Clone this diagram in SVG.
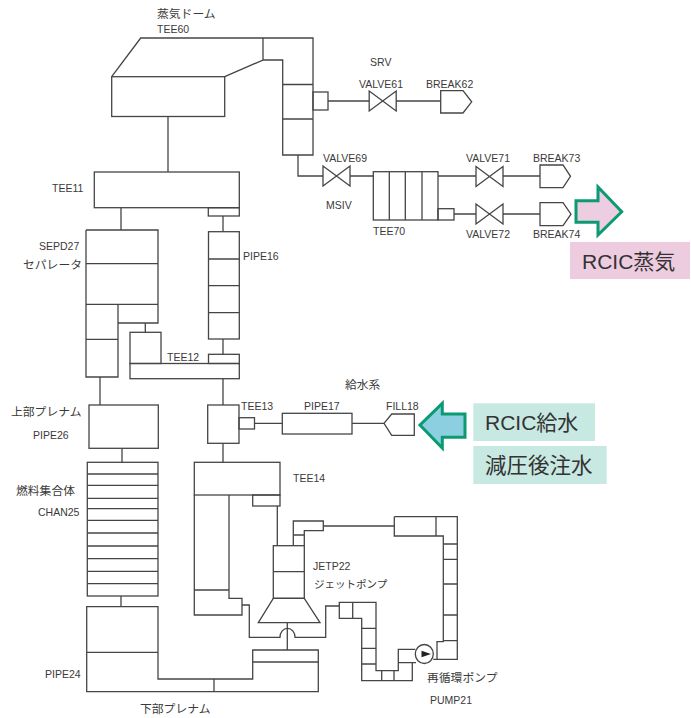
<svg xmlns="http://www.w3.org/2000/svg" width="691" height="718" viewBox="0 0 691 718">
<defs>
<style>
.s{fill:none;stroke:#454545;stroke-width:1.3;stroke-linejoin:miter}
.w{fill:#fff;stroke:#454545;stroke-width:1.3}
.t{font-family:"Liberation Sans","Noto Sans CJK JP",sans-serif;font-size:10.5px;fill:#3a3a3a}
.j{font-family:"Noto Sans CJK JP","Liberation Sans",sans-serif;font-size:11.8px;fill:#3a3a3a}
.c{font-family:"Liberation Sans","Noto Sans CJK JP",sans-serif;font-size:21px;fill:#333}
.a{stroke:#0b9a72;stroke-width:3;stroke-linejoin:miter}
</style>
<g id="valve"><path class="s" d="M-13.500 -10V10L13.500 -10V10Z"/></g>
</defs>
<rect width="691" height="718" fill="#fff"/>

<g id="connectors">
<path class="s" d="M168 116.500V172M298 155V176H323M350 176H373.300M328 101H369.300M396 101H440.700M438 176H476M503 176H540M454 214H476M503 214H540M121 207.700V230M223 216V231.700M223 339V354.300M145.300 323V332.300M100 377V405M223 378.700V405M122 448.300V462.300M223 443.300V462.300M254.500 423.300H282.300M352 423.300H384M121 596V606.700M277.300 506V545.700M323.300 526H394.300M287.300 622.700V650M214 679V691.700"/>
<path class="s" d="M242 605H249.300V637.300H280A7.500 9 0 0 1 295 637.300H325.700V606H339.300"/>
</g>

<g id="TEE60">
<path class="s" d="M111.700 76.700L140.700 38H313V155H282.700V60H263M263 38V60L224.700 76.700M282.700 84.500H313M282.700 119H313"/>
<rect class="s" x="111.700" y="76.700" width="113" height="39.800"/>
<rect class="s" x="313" y="92" width="15" height="18"/>
</g>
<g id="VALVE61"><use href="#valve" x="382.700" y="101"/></g>
<g id="BREAK62"><path class="s" d="M440.700 90.700H463L471.700 101.800L463 113H440.700Z"/></g>
<g id="VALVE69"><use href="#valve" x="336.500" y="176"/></g>
<g id="TEE70">
<rect class="s" x="373.300" y="171.700" width="64.700" height="48.300"/>
<path class="s" d="M389.300 171.700V220M405.300 171.700V220M422 171.700V220"/>
<rect class="s" x="438" y="208.700" width="16" height="11.300"/>
</g>
<g id="VALVE71"><use href="#valve" x="489.500" y="176.500"/></g>
<g id="VALVE72"><use href="#valve" x="489.500" y="214"/></g>
<g id="BREAK73"><path class="s" d="M540 165H563L570.500 176.300L563 187.700H540Z"/></g>
<g id="BREAK74"><path class="s" d="M540 202.700H563L571 214.200L563 225.700H540Z"/></g>

<g id="TEE11">
<rect class="s" x="94.300" y="172" width="145" height="35.700"/>
<rect class="s" x="208.300" y="207.700" width="31" height="8.300"/>
</g>
<g id="SEPD27">
<path class="s" d="M86 230H158V323H118V304.300M86 230V377H118V304.300M86 263.700H158M86 304.300H158M86 339.300H118"/>
</g>
<g id="PIPE16">
<rect class="s" x="208.500" y="231.700" width="30.800" height="107.300"/>
<path class="s" d="M208.500 259H239.300M208.500 285.700H239.300M208.500 312.700H239.300"/>
</g>
<g id="TEE12">
<rect class="s" x="130" y="363.500" width="109.300" height="15.200"/>
<rect class="s" x="130" y="332.300" width="31" height="31.200"/>
<rect class="s" x="208.500" y="354.300" width="30.800" height="9.200"/>
</g>
<g id="PIPE26"><rect class="s" x="89" y="405" width="69.300" height="43.300"/></g>
<g id="TEE13">
<rect class="s" x="207.700" y="405" width="31.300" height="38.300"/>
<rect class="s" x="239" y="417.700" width="15.500" height="11.300"/>
</g>
<g id="PIPE17"><rect class="s" x="282.300" y="413.300" width="69.700" height="20.700"/></g>
<g id="FILL18"><path class="s" d="M384 423.300L391.700 414H414.300V435.300H391.700Z"/></g>

<g id="CHAN25">
<rect class="s" x="87.300" y="462.300" width="70.700" height="133.700"/>
<path class="s" d="M87.300 474H158M87.300 485.300H158M87.300 498.300H158M87.300 508.700H158M87.300 520.300H158M87.300 533H158M87.300 546H158M87.300 558.700H158M87.300 571.300H158M87.300 583.700H158"/>
</g>
<g id="PIPE24">
<path class="s" d="M86.700 606.700H158V679H252.700V650H318.300V691.700H86.700ZM86.700 652.300H158M252.700 662H318.300"/>
</g>
<g id="TEE14">
<rect class="s" x="194.300" y="462.300" width="85.700" height="32.700"/>
<rect class="s" x="252.700" y="495" width="27.300" height="11"/>
<path class="s" d="M194.300 495V615H242V598.300H229V495M194.300 590H229"/>
</g>
<g id="JETP22">
<rect class="s" x="273.300" y="545.700" width="31" height="52.600"/>
<path class="s" d="M273.300 571.700H304.300M273.300 598.300H304.300L320 622.700H258.300Z"/>
<path class="s" d="M293.300 545.700V521H323.300V530.700H304.300V545.700M293.300 535H304.300"/>
</g>
<g id="RECIRC">
<path class="s" d="M394.300 516.700H457.300V659.300H433.300M394.300 516.700V536H443.300V641.700H437V659.300M436 516.700V536M443.300 544H457.300M443.300 559.300H457.300M443.300 584H457.300M443.300 615H457.300M443.300 640.700H457.300"/>
<path class="s" d="M415.300 649.300H398.300V670.700H376V602.300H339.300V618.300H361.700V680.700H412.300V662.700H416M352.700 602.300V618.300M361.700 628.300H376M361.700 648.300H376M361.700 664H376M381.700 670.700V680.700M394 670.700V680.700M398.300 662.700H412.300"/>
</g>
<g id="PUMP21">
<ellipse class="w" cx="424.300" cy="654" rx="9" ry="9.500"/>
<path d="M421.500 650.700L431 654L421.500 657.300Z" fill="#222"/>
</g>

<g id="labels">
<text class="j" x="157" y="18">蒸気ドーム</text>
<text class="t" x="157" y="33">TEE60</text>
<text class="t" x="370" y="66">SRV</text>
<text class="t" x="359" y="88">VALVE61</text>
<text class="t" x="426" y="88">BREAK62</text>
<text class="t" x="323" y="162">VALVE69</text>
<text class="t" x="326" y="209">MSIV</text>
<text class="t" x="373" y="235">TEE70</text>
<text class="t" x="466" y="162">VALVE71</text>
<text class="t" x="533" y="162">BREAK73</text>
<text class="t" x="466" y="238">VALVE72</text>
<text class="t" x="533" y="238">BREAK74</text>
<text class="t" x="52" y="192">TEE11</text>
<text class="t" x="39" y="250">SEPD27</text>
<text class="j" x="23" y="269">セパレータ</text>
<text class="t" x="243" y="260">PIPE16</text>
<text class="t" x="167" y="361">TEE12</text>
<text class="t" x="241" y="410">TEE13</text>
<text class="j" x="11" y="416">上部プレナム</text>
<text class="t" x="33" y="439">PIPE26</text>
<text class="j" x="345" y="389">給水系</text>
<text class="t" x="304" y="410">PIPE17</text>
<text class="t" x="386" y="410">FILL18</text>
<text class="t" x="293" y="482">TEE14</text>
<text class="t" x="313" y="570">JETP22</text>
<text class="j" x="314" y="588" style="font-size:10.500px">ジェットポンプ</text>
<text class="j" x="427" y="682">再循環ポンプ</text>
<text class="t" x="430" y="704">PUMP21</text>
<text class="j" x="16" y="495">燃料集合体</text>
<text class="t" x="38" y="516">CHAN25</text>
<text class="t" x="45" y="678">PIPE24</text>
<text class="j" x="140" y="713">下部プレナム</text>
</g>

<g id="rcic-steam">
<path class="a" fill="#eccde2" d="M576 200.700H598V187L621.700 211.700L598 235V222.300H576Z"/>
<rect x="570" y="242" width="120" height="37" fill="#eecce0"/>
<text class="c" x="582" y="269">RCIC蒸気</text>
</g>
<g id="rcic-feed">
<path class="a" fill="#8bcfe0" d="M465 414H442.300V403.300L420 425L442.300 448V437.300H465Z"/>
<rect x="473.300" y="403.300" width="121.700" height="37.700" fill="#c8e8e2"/>
<text class="c" x="485" y="430">RCIC給水</text>
<rect x="473.300" y="446" width="133.400" height="38" fill="#c8e8e2"/>
<text class="c" x="485" y="473" style="font-size:21.500px">減圧後注水</text>
</g>
</svg>
